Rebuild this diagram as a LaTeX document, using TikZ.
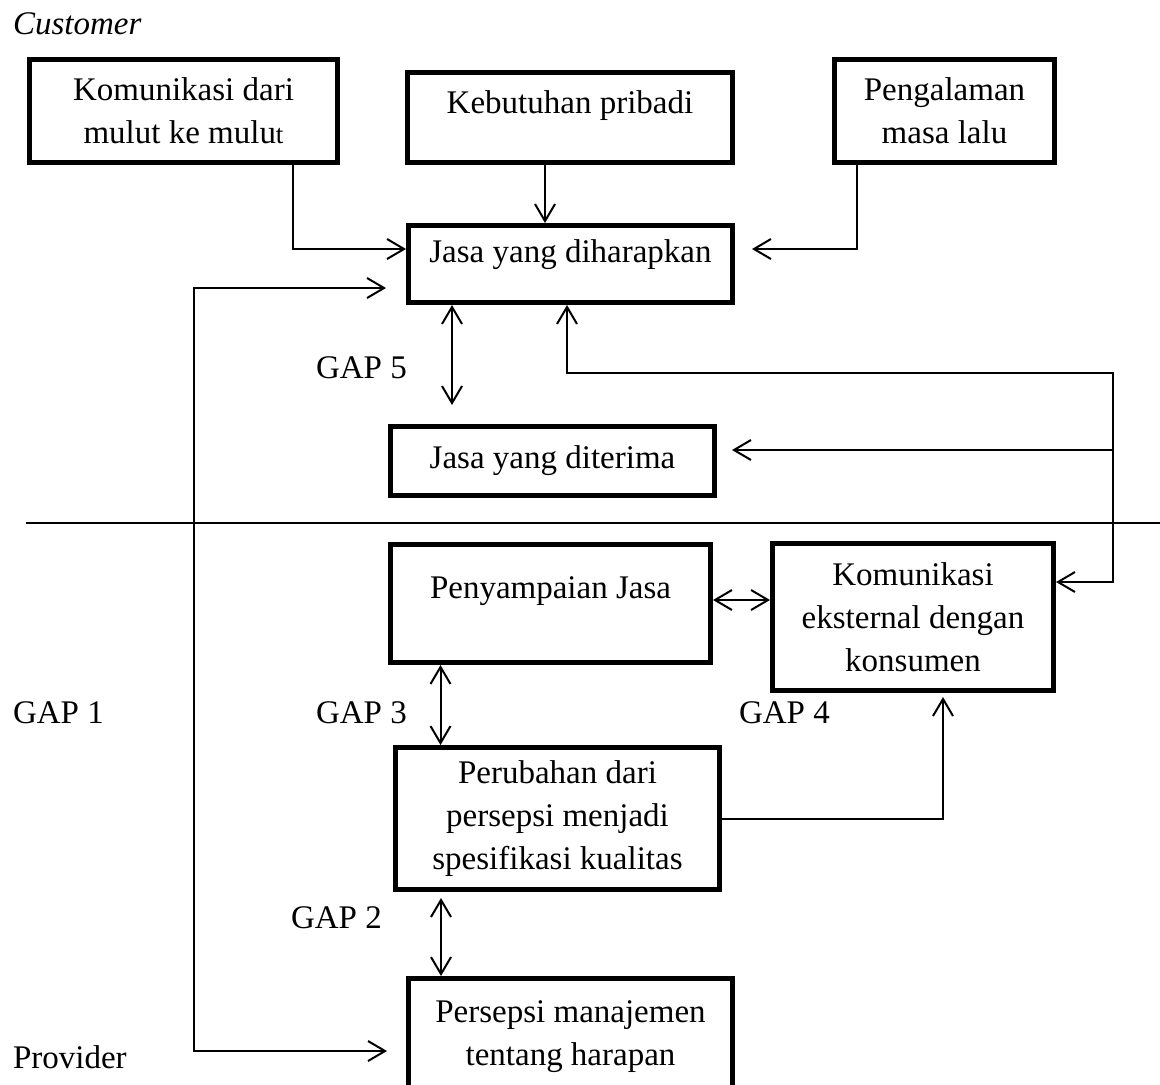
\documentclass[tikz,border=0pt]{standalone}
\usepackage{fontspec}
\setmainfont{Liberation Serif}
\usetikzlibrary{arrows.meta}

\begin{document}
\begin{tikzpicture}[x=0.5pt,y=-0.5pt,line width=1pt,
	>={Straight Barb[length=8.5pt,width=10pt]},
	box/.style={draw,line width=2.5pt,align=center,inner sep=0pt,
		font=\fontsize{16.5}{21.5}\selectfont},
	gap/.style={anchor=base west,inner sep=0pt,
		font=\fontsize{16.5}{21.5}\selectfont}]
\useasboundingbox (0,0) rectangle (1160,1084);

\node[gap,font=\fontsize{16.5}{21.5}\selectfont\itshape] (customer) at (12,34) {Customer};
\node[gap] (provider) at (12,1068) {Provider};

\node[box,minimum width=154pt,minimum height=51.5pt] (mulut) at (183.5,111)
	{Komunikasi dari\\mulut ke mulu{\fontsize{13.5}{21.5}\selectfont t}};
\node[box,minimum width=162.5pt,minimum height=45pt,text depth=15.6pt] (pribadi) at (570,117.5)
	{Kebutuhan pribadi};
\node[box,minimum width=110pt,minimum height=51.5pt] (lalu) at (944.5,111)
	{Pengalaman\\masa lalu};
\node[box,minimum width=162pt,minimum height=38.5pt,text depth=12.6pt] (harap) at (570.5,264)
	{Jasa yang diharapkan};
\node[box,minimum width=162pt,minimum height=34.5pt] (terima) at (552.5,461)
	{Jasa yang diterima};
\node[box,minimum width=160pt,minimum height=59pt,text depth=16.1pt] (penyampaian) at (550.5,603.5)
	{Penyampaian Jasa};
\node[box,minimum width=140.5pt,minimum height=73.5pt] (eksternal) at (913,617)
	{Komunikasi\\eksternal dengan\\konsumen};
\node[box,minimum width=162pt,minimum height=71pt] (perubahan) at (557.5,818.5)
	{Perubahan dari\\persepsi menjadi\\spesifikasi kualitas};
\node[box,minimum width=162pt,minimum height=58pt] (manajemen) at (570.5,1036.5)
	{Persepsi manajemen\\tentang harapan};

\foreach \n/\x/\y in {5/315/378,1/12/723,3/315/723,4/738/723,2/290/928}
	\node[gap] (gap\n) at (\x,\y) {GAP \n};

\draw (26,523) -- (1160,523);

\draw[->] ([xshift=54.75pt]mulut.south) |- ([yshift=7.5pt]harap.west);
\draw[->] ([xshift=-12.5pt]pribadi.south) -- ([xshift=-12.5pt]pribadi.south |- harap.north);
\draw[->,shorten >=8.5pt] ([xshift=-43.75pt]lalu.south) |- ([yshift=7.5pt]harap.east);

\draw[<->,shorten <=10pt,shorten >=9.5pt] ([yshift=-12pt]harap.west)
	-| ([xshift=-106pt]manajemen.west) |- ([yshift=-7.25pt]manajemen.west);

\draw[<->,shorten >=9.5pt] ([xshift=-59.25pt]harap.south) -- ([xshift=-59.25pt]harap.south |- terima.north);

\coordinate (belok) at (1113,373);
\coordinate (masuk) at ([yshift=5.5pt]terima.east);
\draw[<->] ([xshift=-1.75pt]harap.south) |- (belok) |- ([yshift=17.5pt]eksternal.east);
\draw[->,shorten >=7.5pt] (belok |- masuk) -- (masuk);

\draw[<->] ([yshift=1.75pt]penyampaian.east) -- ([yshift=1.75pt]penyampaian.east -| eksternal.west);
\draw[<->] ([xshift=-55pt]penyampaian.south) -- ([xshift=-55pt]penyampaian.south |- perubahan.north);
\draw[->,shorten >=2pt] (perubahan.east) -| ([xshift=15pt]eksternal.south);
\draw[<->,shorten <=3pt] ([xshift=-58.25pt]perubahan.south) -- ([xshift=-58.25pt]perubahan.south |- manajemen.north);
\end{tikzpicture}
\end{document}
